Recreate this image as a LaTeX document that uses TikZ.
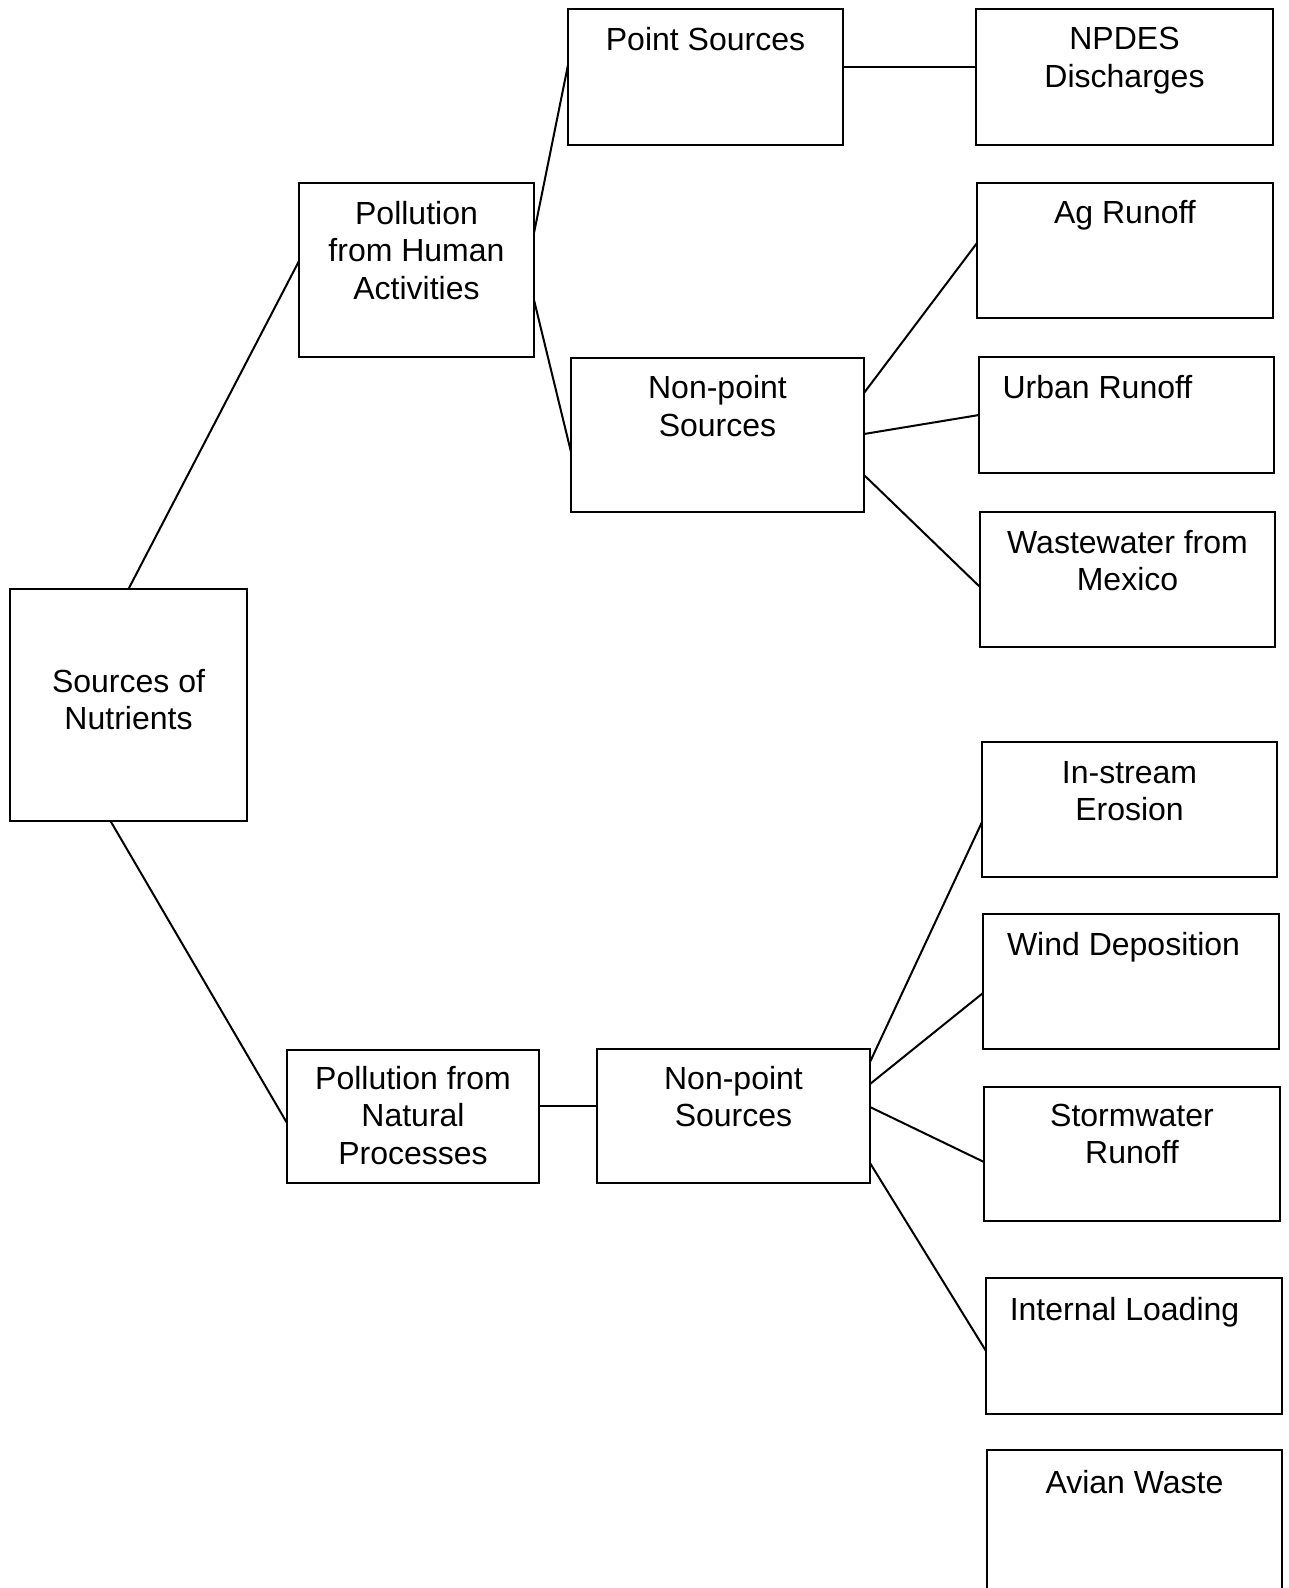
\documentclass[tikz,border=0pt]{standalone}
\usepackage{fontspec}
\setmainfont{Liberation Sans}
\usetikzlibrary{positioning}
\tikzset{
  box/.style={draw, line width=2.6pt, rectangle, inner sep=0pt, outer sep=0pt, anchor=north west},
  lbl/.style={align=center, inner sep=0pt, anchor=north, font=\fontsize{32}{37.5}\selectfont},
  link/.style={line width=2pt},
}
\begin{document}
\begin{tikzpicture}[x=1pt, y=-1pt]
\useasboundingbox (0,0) rectangle (1289,1588);
\clip (0,0) rectangle (1289,1588);

% boxes
\node[box, minimum width=237pt, minimum height=232pt] (src) at (10,589) {};
\node[box, minimum width=235pt, minimum height=174pt] (hum) at (299,183) {};
\node[box, minimum width=275pt, minimum height=136pt] (ps) at (568,9) {};
\node[box, minimum width=297pt, minimum height=136pt] (npdes) at (976,9) {};
\node[box, minimum width=293pt, minimum height=154pt] (np1) at (571,358) {};
\node[box, minimum width=296pt, minimum height=135pt] (ag) at (977,183) {};
\node[box, minimum width=295pt, minimum height=116pt] (urban) at (979,357) {};
\node[box, minimum width=295pt, minimum height=135pt] (waste) at (980,512) {};
\node[box, minimum width=252pt, minimum height=133pt] (nat) at (287,1050) {};
\node[box, minimum width=273pt, minimum height=134pt] (np2) at (597,1049) {};
\node[box, minimum width=295pt, minimum height=135pt] (erosion) at (982,742) {};
\node[box, minimum width=296pt, minimum height=135pt] (wind) at (983,914) {};
\node[box, minimum width=296pt, minimum height=134pt] (storm) at (984,1087) {};
\node[box, minimum width=296pt, minimum height=136pt] (internal) at (986,1278) {};
\node[box, minimum width=295pt, minimum height=160pt] (avian) at (987,1450) {};

% labels
\node[lbl, below=80pt of src.north] (srctxt) {Sources of\\Nutrients};
\node[lbl, below=18pt of hum.north] (humtxt) {Pollution\\from Human\\Activities};
\node[lbl, below=18pt of ps.north] (pstxt) {Point Sources};
\node[lbl, below=18pt of npdes.north] (npdestxt) {NPDES\\Discharges};
\node[lbl, below=17.5pt of np1.north] (np1txt) {Non-point\\Sources};
\node[lbl, below=17pt of ag.north] (agtxt) {Ag Runoff};
\node[lbl, below=18pt of urban.north, xshift=-29pt] (urbantxt) {Urban Runoff};
\node[lbl, below=18pt of waste.north] (wastetxt) {Wastewater from\\Mexico};
\node[lbl, below=16pt of nat.north] (nattxt) {Pollution from\\Natural\\Processes};
\node[lbl, below=17pt of np2.north] (np2txt) {Non-point\\Sources};
\node[lbl, below=19pt of erosion.north] (erosiontxt) {In-stream\\Erosion};
\node[lbl, below=18pt of wind.north, xshift=-7.5pt] (windtxt) {Wind Deposition};
\node[lbl, below=16.5pt of storm.north] (stormtxt) {Stormwater\\Runoff};
\node[lbl, below=19pt of internal.north, xshift=-9.5pt] (internaltxt) {Internal Loading};
\node[lbl, below=20pt of avian.north] (aviantxt) {Avian Waste};

% connectors
\draw[link] (src.north) -- ([yshift=-78pt]hum.north west);
\draw[link] ([xshift=-18pt]src.south) -- ([yshift=-73pt]nat.north west);
\draw[link] ([yshift=-50pt]hum.north east) -- ([yshift=-56pt]ps.north west);
\draw[link] ([yshift=-117pt]hum.north east) -- ([yshift=-94pt]np1.north west);
\draw[link] ([yshift=-58pt]ps.north east) -- ([yshift=-58pt]npdes.north west);
\draw[link] ([yshift=-35pt]np1.north east) -- ([yshift=-60pt]ag.north west);
\draw[link] ([yshift=-76pt]np1.north east) -- ([yshift=-58pt]urban.north west);
\draw[link] ([yshift=-117pt]np1.north east) -- ([yshift=-75pt]waste.north west);
\draw[link] ([yshift=-56pt]nat.north east) -- ([yshift=-57pt]np2.north west);
\draw[link] ([yshift=-13pt]np2.north east) -- ([yshift=-80pt]erosion.north west);
\draw[link] ([yshift=-35pt]np2.north east) -- ([yshift=-79pt]wind.north west);
\draw[link] ([yshift=-58pt]np2.north east) -- ([yshift=-75pt]storm.north west);
\draw[link] ([yshift=-114pt]np2.north east) -- ([yshift=-73pt]internal.north west);
\end{tikzpicture}
\end{document}
